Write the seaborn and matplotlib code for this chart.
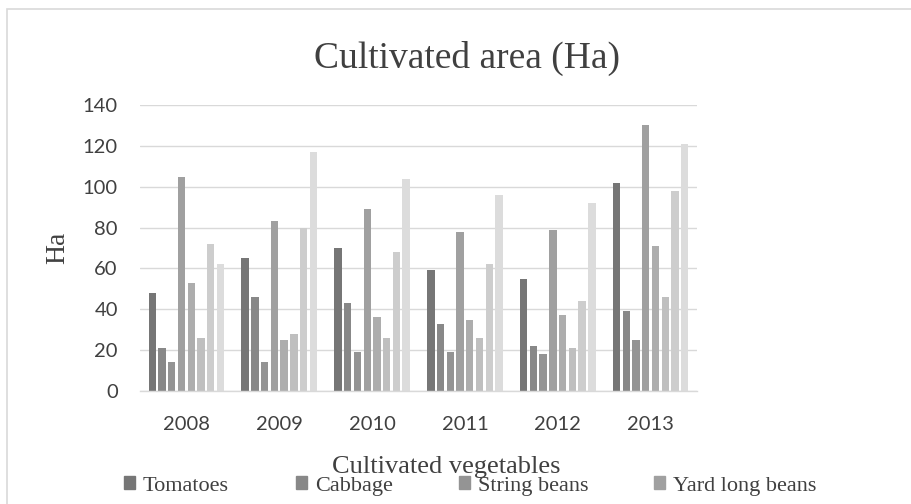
import matplotlib
matplotlib.use("Agg")
import matplotlib.pyplot as plt
import matplotlib.patches as mpatches
import seaborn as sns
import pandas as pd

years = ["2008", "2009", "2010", "2011", "2012", "2013"]
series_names = ["Tomatoes", "Cabbage", "String beans", "Yard long beans",
                "Series 5", "Series 6", "Series 7", "Series 8"]
s1 = [48, 65, 70, 59, 55, 102]
s2 = [21, 46, 43, 33, 22, 39]
s3 = [14, 14, 19, 19, 18, 25]
s4 = [105, 83, 89, 78, 79, 130]
s5 = [53, 25, 36, 35, 37, 71]
s6 = [26, 28, 26, 26, 21, 46]
s7 = [72, 80, 68, 62, 44, 98]
s8 = [62, 117, 104, 96, 92, 121]
all_series = [s1, s2, s3, s4, s5, s6, s7, s8]
legend_shown = ["Tomatoes", "Cabbage", "String beans", "Yard long beans"]
yticks = [0, 20, 40, 60, 80, 100, 120, 140]

colors = ["#767676", "#888888", "#949494", "#a0a0a0",
          "#adadad", "#bfbfbf", "#cdcdcd", "#dcdcdc"]

rows = []
for name, vals in zip(series_names, all_series):
    for y, v in zip(years, vals):
        rows.append({"Year": y, "Series": name, "Ha": v})
df = pd.DataFrame(rows)

sns.set_theme(style="white")
serif = ["Liberation Serif", "DejaVu Serif"]
sans = ["Lato", "DejaVu Sans"]

fig = plt.figure(figsize=(9.12, 5.04), dpi=100)
ax = fig.add_axes([140 / 912, 1 - 391 / 504, 557 / 912, 286 / 504])

sns.barplot(data=df, x="Year", y="Ha", hue="Series", order=years,
            hue_order=series_names, palette=colors, width=0.84,
            saturation=1, legend=False, ax=ax, errorbar=None)

for cont in ax.containers:
    for p in cont:
        w = p.get_width()
        p.set_x(p.get_x() + w * 0.12)
        p.set_width(w * 0.76)
        p.set_edgecolor("none")

ax.set_xlim(-0.5, 5.5)
ax.set_ylim(0, 140)
ax.set_yticks(yticks)
ax.set_yticklabels([str(t) for t in yticks])
ax.grid(axis="y", color="#d9d9d9", linewidth=1.0)
ax.set_axisbelow(True)
for s in ["top", "right", "left"]:
    ax.spines[s].set_visible(False)
ax.spines["bottom"].set_color("#d9d9d9")
ax.spines["bottom"].set_linewidth(1.0)
ax.tick_params(axis="both", length=0, labelsize=14.5, colors="#404040")
ax.tick_params(axis="y", pad=16)
ax.tick_params(axis="x", pad=18)
for lab in ax.get_xticklabels() + ax.get_yticklabels():
    lab.set_family(sans)
ax.set_xlabel("")
ax.set_ylabel("")

fig.text(467 / 912, 1 - 58 / 504, "Cultivated area (Ha)", family=serif,
         fontsize=27, color="#404040", ha="center", va="center")
fig.text(446 / 912, 1 - 467 / 504, "Cultivated vegetables", family=serif,
         fontsize=19, color="#404040", ha="center", va="center")
fig.text(58 / 912, 1 - 248 / 504, "Ha", family=serif, fontsize=20,
         color="#404040", ha="center", va="center", rotation=90)

# border
fig.patches.append(mpatches.Rectangle((7 / 912, -0.2), 1.2, 1.2 - 9 / 504,
                                      transform=fig.transFigure, fill=False,
                                      edgecolor="#d9d9d9", linewidth=1.2))

leg_x = [124, 296, 459, 654]
for i, (name, xpos) in enumerate(zip(legend_shown, leg_x)):
    handle = mpatches.Patch(color=colors[i])
    lg = fig.legend([handle], [name], loc="center left",
                    bbox_to_anchor=(xpos / 912, 1 - 486 / 504),
                    frameon=False, borderpad=0, borderaxespad=0,
                    handlelength=0.5, handleheight=0.5, handletextpad=0.35,
                    prop={"family": serif, "size": 16})
    for t in lg.get_texts():
        t.set_color("#404040")

fig.savefig("out.png", dpi=100)
